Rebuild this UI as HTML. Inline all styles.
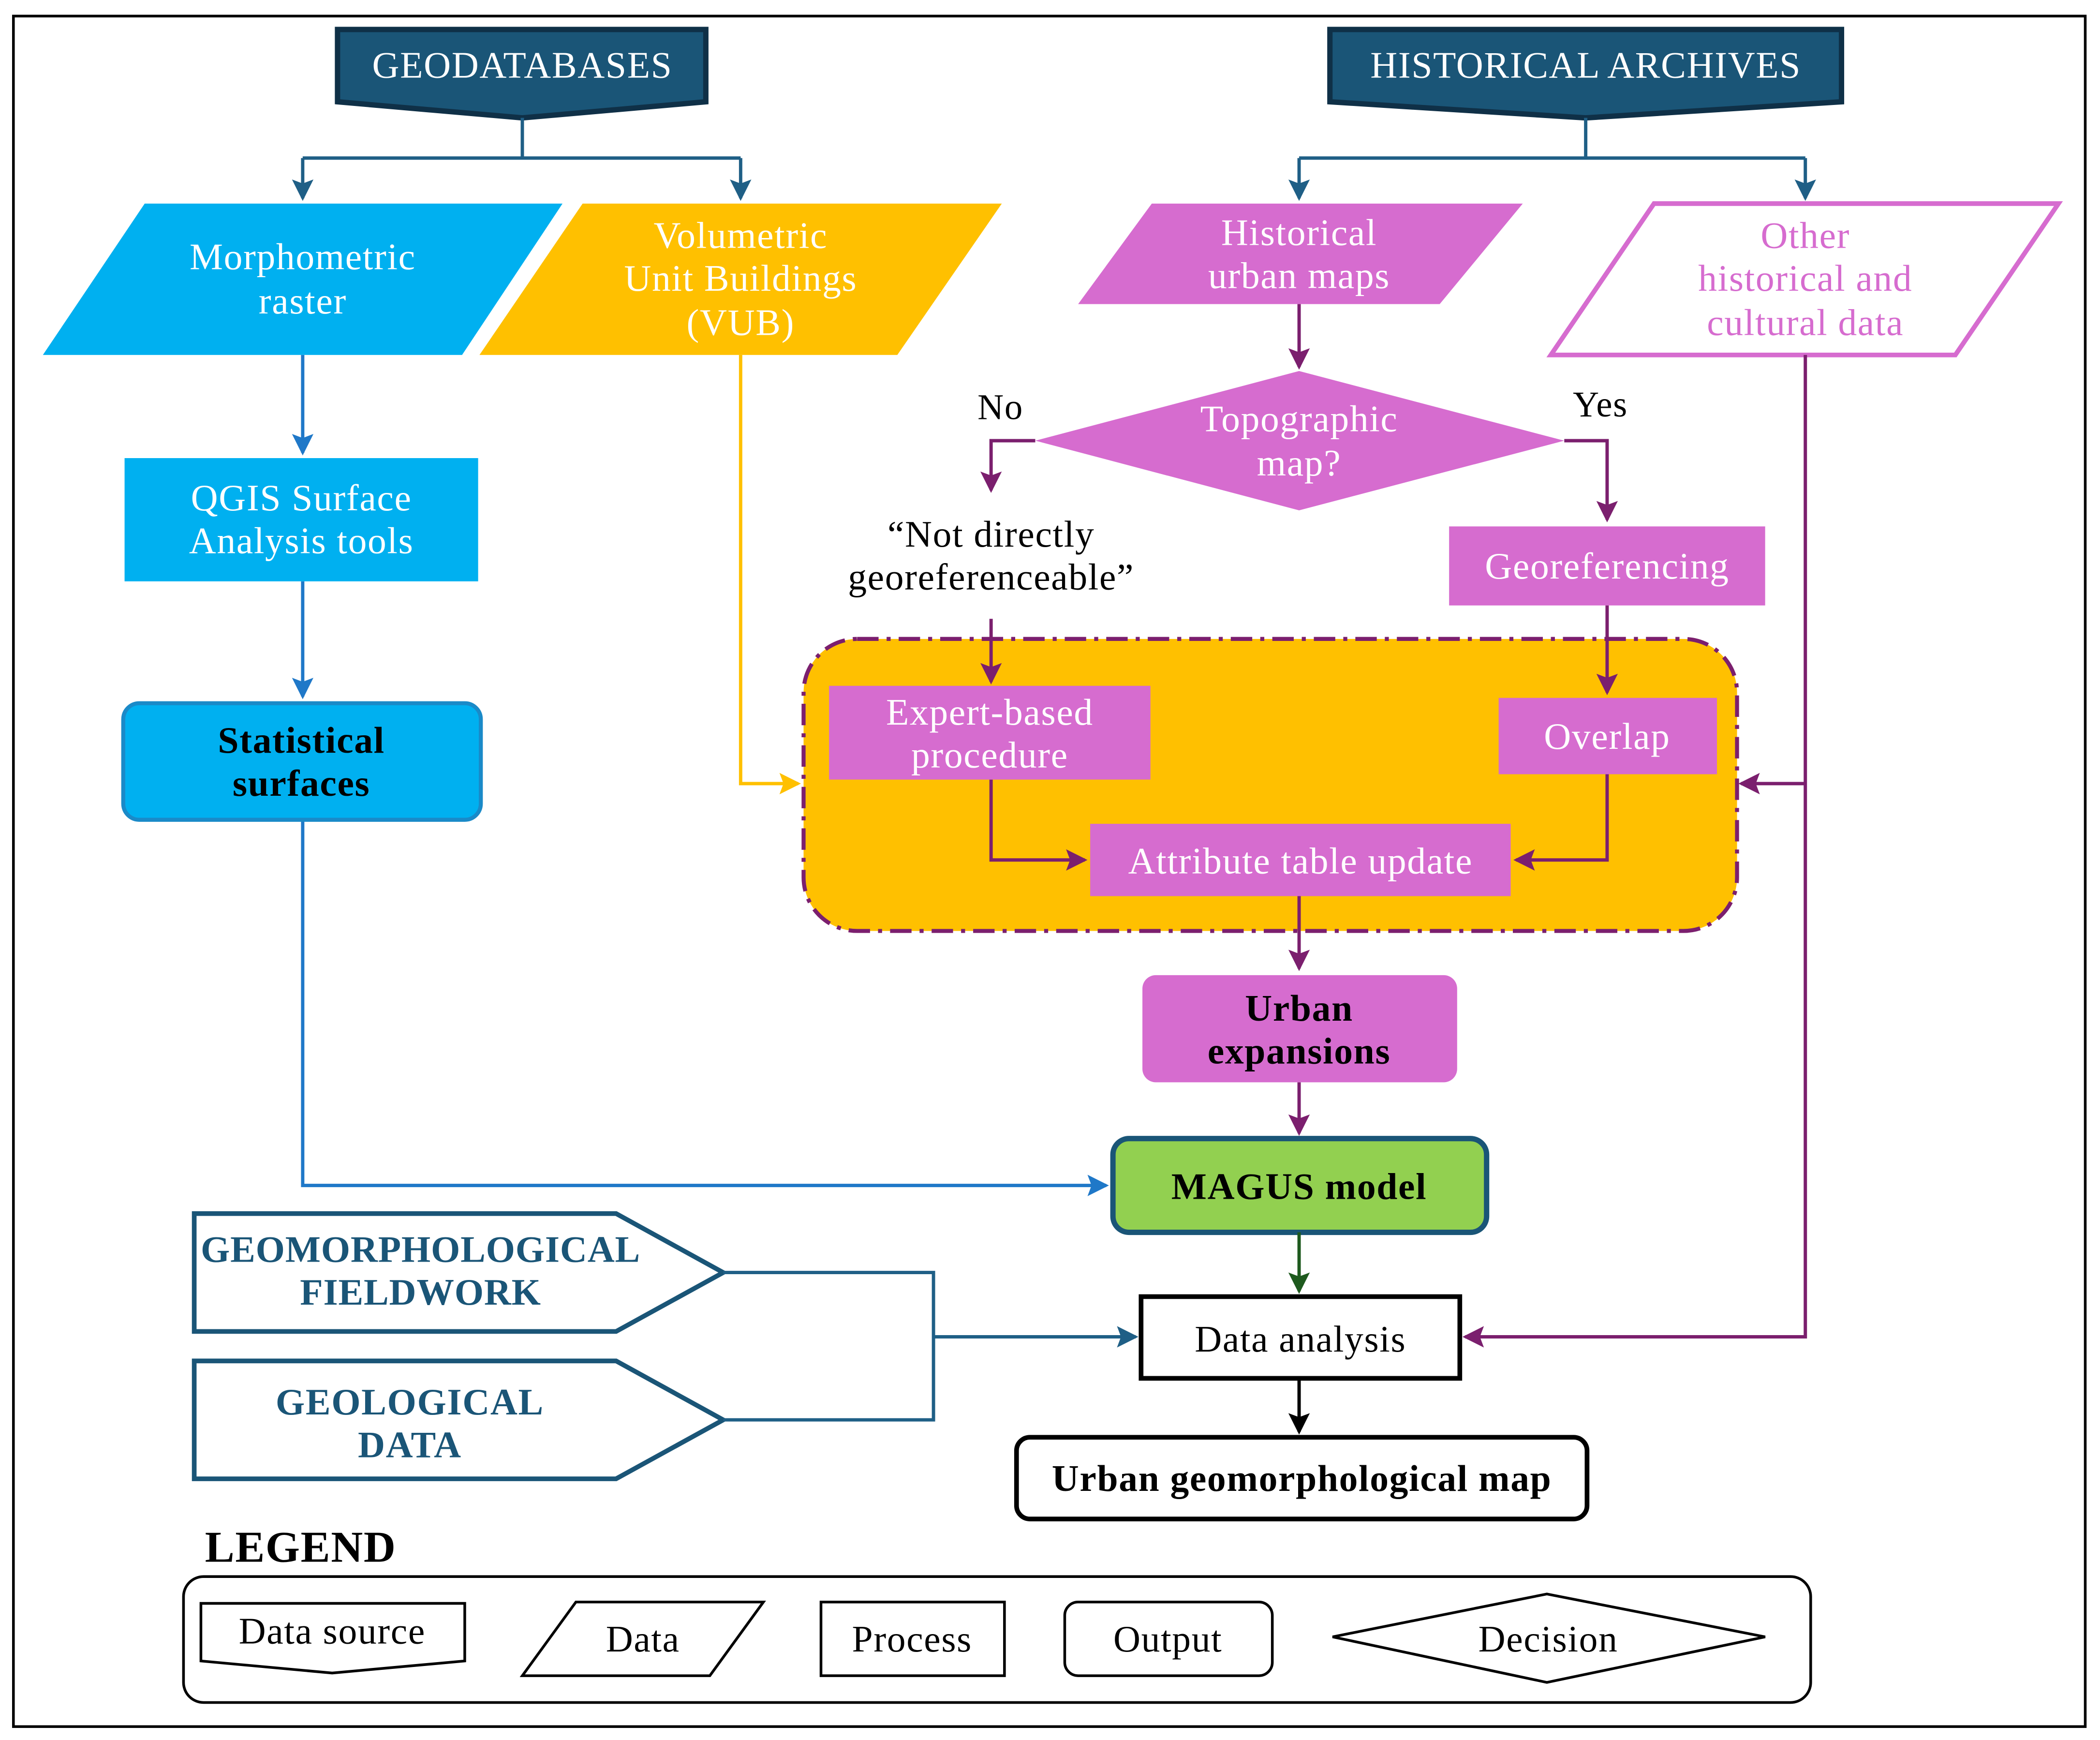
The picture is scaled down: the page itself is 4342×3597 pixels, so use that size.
<!DOCTYPE html>
<html><head><meta charset="utf-8"><style>html,body{margin:0;padding:0;background:#fff}svg{display:block}</style></head>
<body>
<svg xmlns="http://www.w3.org/2000/svg" width="4342" height="3597" viewBox="0 0 1568 1299" font-family="'Liberation Serif', serif" letter-spacing="0.6">
<defs>
<marker id="aB" markerWidth="16" markerHeight="16" refX="14" refY="8" orient="auto" markerUnits="userSpaceOnUse"><path d="M0,0 L16,8 L0,16 L3,8 z" fill="#1f78c8"/></marker>
<marker id="aP" markerWidth="16" markerHeight="16" refX="14" refY="8" orient="auto" markerUnits="userSpaceOnUse"><path d="M0,0 L16,8 L0,16 L3,8 z" fill="#7b1f6e"/></marker>
<marker id="aY" markerWidth="16" markerHeight="16" refX="14" refY="8" orient="auto" markerUnits="userSpaceOnUse"><path d="M0,0 L16,8 L0,16 L3,8 z" fill="#ffc000"/></marker>
<marker id="aD" markerWidth="16" markerHeight="16" refX="14" refY="8" orient="auto" markerUnits="userSpaceOnUse"><path d="M0,0 L16,8 L0,16 L3,8 z" fill="#1f5f86"/></marker>
<marker id="aG" markerWidth="16" markerHeight="16" refX="14" refY="8" orient="auto" markerUnits="userSpaceOnUse"><path d="M0,0 L16,8 L0,16 L3,8 z" fill="#1e5a1e"/></marker>
<marker id="aK" markerWidth="16" markerHeight="16" refX="14" refY="8" orient="auto" markerUnits="userSpaceOnUse"><path d="M0,0 L16,8 L0,16 L3,8 z" fill="#000"/></marker>
</defs>
<rect x="0" y="0" width="1568" height="1299" fill="#fff"/>
<rect x="10" y="12" width="1547" height="1277" fill="none" stroke="#000" stroke-width="2"/>

<path d="M252,22 H527 V76 L390,88 L252,76 Z" fill="#1a5577" stroke="#0f3047" stroke-width="4"/>
<text x="390" y="58" font-size="28" fill="#fff" text-anchor="middle">GEODATABASES</text>
<path d="M993,22 H1375 V76 L1184,88 L993,76 Z" fill="#1a5577" stroke="#0f3047" stroke-width="4"/>
<text x="1184" y="58" font-size="28" fill="#fff" text-anchor="middle">HISTORICAL ARCHIVES</text>

<g stroke="#1f5f86" stroke-width="2.5" fill="none">
<path d="M390,88 V118 M226,118 H553 M1184,88 V118 M970,118 H1348"/>
<path d="M226,118 V148" marker-end="url(#aD)"/>
<path d="M553,118 V148" marker-end="url(#aD)"/>
<path d="M970,118 V148" marker-end="url(#aD)"/>
<path d="M1348,118 V148" marker-end="url(#aD)"/>
</g>

<polygon points="108,152 420,152 345,265 32,265" fill="#00b0f0"/>
<text font-size="28" fill="#fff" text-anchor="middle"><tspan x="226" y="201">Morphometric</tspan><tspan x="226" y="234">raster</tspan></text>
<polygon points="435,152 748,152 670,265 358,265" fill="#ffc000"/>
<text font-size="28" fill="#fff" text-anchor="middle"><tspan x="553" y="185">Volumetric</tspan><tspan x="553" y="217">Unit Buildings</tspan><tspan x="553" y="250">(VUB)</tspan></text>
<polygon points="860,152 1137,152 1075,227 805,227" fill="#d66ccf"/>
<text font-size="28" fill="#fff" text-anchor="middle"><tspan x="970" y="183">Historical</tspan><tspan x="970" y="215">urban maps</tspan></text>
<polygon points="1235,152 1537,152 1460,265 1158,265" fill="#fff" stroke="#d66ccf" stroke-width="3.5"/>
<text font-size="28" fill="#d66ccf" text-anchor="middle"><tspan x="1348" y="185">Other</tspan><tspan x="1348" y="217">historical and</tspan><tspan x="1348" y="250">cultural data</tspan></text>

<g stroke="#7b1f6e" stroke-width="2.5" fill="none">
<path d="M970,227 V274" marker-end="url(#aP)"/>
<path d="M773,329 H740 V366" marker-end="url(#aP)"/>
<path d="M1168,329 H1200 V388" marker-end="url(#aP)"/>
</g>
<polygon points="773,329 970,277 1168,329 970,381" fill="#d66ccf"/>
<text font-size="28" fill="#fff" text-anchor="middle"><tspan x="970" y="322">Topographic</tspan><tspan x="970" y="355">map?</tspan></text>
<text x="747" y="313" font-size="27" text-anchor="middle">No</text>
<text x="1195" y="311" font-size="27" text-anchor="middle">Yes</text>
<text font-size="28" text-anchor="middle"><tspan x="740" y="408">“Not directly</tspan><tspan x="740" y="440">georeferenceable”</tspan></text>
<rect x="1082" y="393" width="236" height="59" fill="#d66ccf"/>
<text x="1200" y="432" font-size="28" fill="#fff" text-anchor="middle">Georeferencing</text>

<rect x="600" y="477" width="697" height="218" rx="40" fill="#ffc000" stroke="#7b1f6e" stroke-width="3" stroke-dasharray="16,6,3,6"/>
<g stroke="#7b1f6e" stroke-width="2.5" fill="none">
<path d="M740,462 V509" marker-end="url(#aP)"/>
<path d="M1200,452 V517" marker-end="url(#aP)"/>
<path d="M740,582 V642 H810" marker-end="url(#aP)"/>
<path d="M1200,578 V642 H1132" marker-end="url(#aP)"/>
<path d="M1348,265 V998 H1094" marker-end="url(#aP)"/>
<path d="M1348,585 H1300" marker-end="url(#aP)"/>
<path d="M970,669 V723" marker-end="url(#aP)"/>
<path d="M970,808 V846" marker-end="url(#aP)"/>
</g>
<path d="M553,265 V585 H596" stroke="#ffc000" stroke-width="2.5" fill="none" marker-end="url(#aY)"/>
<rect x="619" y="512" width="240" height="70" fill="#d66ccf"/>
<text font-size="28" fill="#fff" text-anchor="middle"><tspan x="739" y="541">Expert-based</tspan><tspan x="739" y="573">procedure</tspan></text>
<rect x="1119" y="521" width="163" height="57" fill="#d66ccf"/>
<text x="1200" y="559" font-size="28" fill="#fff" text-anchor="middle">Overlap</text>
<rect x="814" y="615" width="314" height="54" fill="#d66ccf"/>
<text x="971" y="652" font-size="28" fill="#fff" text-anchor="middle">Attribute table update</text>

<rect x="853" y="728" width="235" height="80" rx="10" fill="#d66ccf"/>
<text font-size="28" font-weight="bold" text-anchor="middle"><tspan x="970" y="762">Urban</tspan><tspan x="970" y="794">expansions</tspan></text>
<rect x="831" y="850" width="279" height="70" rx="12" fill="#92d050" stroke="#1a5577" stroke-width="4"/>
<text x="970" y="895" font-size="28" font-weight="bold" text-anchor="middle">MAGUS model</text>
<path d="M970,920 V964" stroke="#1e5a1e" stroke-width="2.5" fill="none" marker-end="url(#aG)"/>
<rect x="852" y="968" width="238" height="61" fill="#fff" stroke="#000" stroke-width="3.5"/>
<text x="971" y="1009" font-size="28" text-anchor="middle">Data analysis</text>
<path d="M970,1029 V1069" stroke="#000" stroke-width="2.5" fill="none" marker-end="url(#aK)"/>
<rect x="759" y="1073" width="426" height="61" rx="10" fill="#fff" stroke="#000" stroke-width="3.5"/>
<text x="972" y="1113" font-size="28" font-weight="bold" text-anchor="middle">Urban geomorphological map</text>

<g stroke="#1f78c8" stroke-width="2.5" fill="none">
<path d="M226,265 V338" marker-end="url(#aB)"/>
<path d="M226,434 V520" marker-end="url(#aB)"/>
<path d="M226,612 V885 H826" marker-end="url(#aB)"/>
</g>
<rect x="93" y="342" width="264" height="92" fill="#00b0f0"/>
<text font-size="28" fill="#fff" text-anchor="middle"><tspan x="225" y="381">QGIS Surface</tspan><tspan x="225" y="413">Analysis tools</tspan></text>
<rect x="92" y="525" width="267" height="87" rx="12" fill="#00b0f0" stroke="#1a8ac8" stroke-width="3"/>
<text font-size="28" font-weight="bold" text-anchor="middle"><tspan x="225" y="562">Statistical</tspan><tspan x="225" y="594">surfaces</tspan></text>

<polygon points="145,906 460,906 540,950 460,994 145,994" fill="#fff" stroke="#1a5577" stroke-width="3.5"/>
<text font-size="28" font-weight="bold" fill="#1a5577" text-anchor="middle" letter-spacing="0.3"><tspan x="314" y="942">GEOMORPHOLOGICAL</tspan><tspan x="314" y="974">FIELDWORK</tspan></text>
<polygon points="145,1016 460,1016 540,1060 460,1104 145,1104" fill="#fff" stroke="#1a5577" stroke-width="3.5"/>
<text font-size="28" font-weight="bold" fill="#1a5577" text-anchor="middle"><tspan x="306" y="1056">GEOLOGICAL</tspan><tspan x="306" y="1088">DATA</tspan></text>
<g stroke="#1f5f86" stroke-width="2.5" fill="none">
<path d="M540,950 H697 V1060 H540"/>
<path d="M697,998 H848" marker-end="url(#aD)"/>
</g>

<text x="153" y="1166" font-size="33" font-weight="bold">LEGEND</text>
<rect x="137" y="1177" width="1215" height="94" rx="15" fill="#fff" stroke="#000" stroke-width="2"/>
<polygon points="150,1197 347,1197 347,1240 248,1249 150,1240" fill="#fff" stroke="#000" stroke-width="2"/>
<text x="248" y="1227" font-size="28" text-anchor="middle">Data source</text>
<polygon points="430,1196 570,1196 530,1251 390,1251" fill="#fff" stroke="#000" stroke-width="2"/>
<text x="480" y="1233" font-size="28" text-anchor="middle">Data</text>
<rect x="613" y="1196" width="137" height="55" fill="#fff" stroke="#000" stroke-width="2"/>
<text x="681" y="1233" font-size="28" text-anchor="middle">Process</text>
<rect x="795" y="1196" width="155" height="55" rx="10" fill="#fff" stroke="#000" stroke-width="2"/>
<text x="872" y="1233" font-size="28" text-anchor="middle">Output</text>
<polygon points="995,1222 1155,1190 1318,1222 1155,1256" fill="#fff" stroke="#000" stroke-width="2"/>
<text x="1156" y="1233" font-size="28" text-anchor="middle">Decision</text>
</svg>
</body></html>
